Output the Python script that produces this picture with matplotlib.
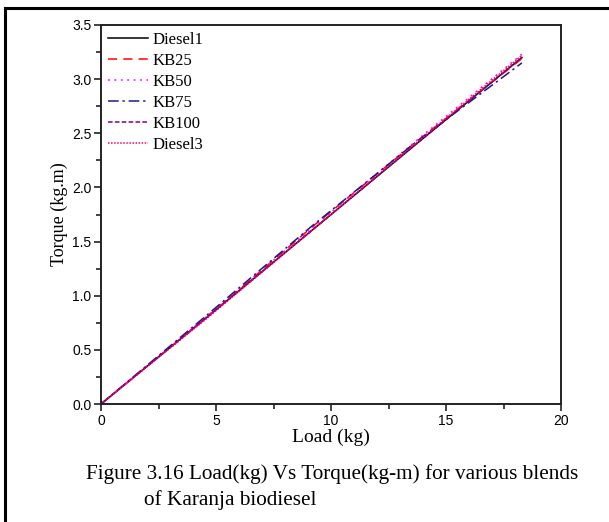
import matplotlib
matplotlib.use("Agg")
import matplotlib.pyplot as plt
from matplotlib.lines import Line2D
from matplotlib.ticker import MultipleLocator

load = [0, 4.6, 9.15, 13.7, 18.3]
diesel1 = [0, 0.80, 1.60, 2.40, 3.20]
kb25 = [0, 0.80, 1.63, 2.42, 3.19]
kb50 = [0, 0.81, 1.62, 2.43, 3.23]
kb75 = [0, 0.82, 1.64, 2.42, 3.15]
kb100 = [0, 0.80, 1.60, 2.40, 3.20]
diesel3 = [0, 0.79, 1.60, 2.41, 3.22]

series = [
    ("Diesel1", diesel1, dict(color="black", linestyle="-")),
    ("KB25", kb25, dict(color="#ff0000", linestyle=(0, (6, 4)))),
    ("KB50", kb50, dict(color="#ff00ff", linestyle=(0, (1.2, 3)))),
    ("KB75", kb75, dict(color="#1a1a8c", linestyle=(0, (7, 2.5, 1.5, 2.5)))),
    ("KB100", kb100, dict(color="#800080", linestyle=(0, (3, 1.5)))),
    ("Diesel3", diesel3, dict(color="#ff0066", linestyle=(0, (1, 1)))),
]

fig = plt.figure(figsize=(6.09, 5.22), dpi=100)
W, H = 609, 522
ax = fig.add_axes([101 / W, 1 - 404 / H, 460 / W, 379 / H])

for name, vals, st in series:
    ax.plot(load, vals, lw=1.1, label=name, **st)

ax.set_xlim(0, 20)
ax.set_ylim(0, 3.5)
ax.xaxis.set_major_locator(MultipleLocator(5))
ax.xaxis.set_minor_locator(MultipleLocator(2.5))
ax.yaxis.set_major_locator(MultipleLocator(0.5))
ax.yaxis.set_minor_locator(MultipleLocator(0.25))
ax.yaxis.set_major_formatter(matplotlib.ticker.FormatStrFormatter("%.1f"))
ax.tick_params(which="major", direction="out", length=5, width=1.2, color="#222222",
               labelsize=10, labelcolor="black", pad=2)
ax.tick_params(which="minor", direction="out", length=3.5, width=1.2, color="#222222")
for lab in ax.get_xticklabels() + ax.get_yticklabels():
    lab.set_fontfamily("Liberation Sans")
for s in ax.spines.values():
    s.set_linewidth(1.4)
    s.set_color("#222222")

ax.set_xlabel("Load (kg)", fontfamily="Liberation Serif", fontsize=14, labelpad=1)
ax.set_ylabel("Torque (kg.m)", fontfamily="Liberation Serif", fontsize=13, labelpad=3)

leg = ax.legend(loc="upper left", frameon=False, handlelength=2.4, handletextpad=0.3,
                labelspacing=0.3, borderaxespad=0.2, borderpad=0.2,
                prop={"family": "Liberation Serif", "size": 12})

fig.text(0.5 * (80 + 584) / W, 1 - 474 / H,
         "Figure 3.16 Load(kg) Vs Torque(kg-m) for various blends",
         ha="center", va="center", fontfamily="Liberation Serif", fontsize=15.3)
fig.text(144 / W, 1 - 500 / H, "of Karanja biodiesel",
         ha="left", va="center", fontfamily="Liberation Serif", fontsize=15.3)

# outer frame (top and left)
fig.add_artist(Line2D([5 / W, 1.0], [1 - 8 / H, 1 - 8 / H], transform=fig.transFigure,
                      color="black", lw=2.2))
fig.add_artist(Line2D([5 / W, 5 / W], [0, 1 - 8 / H], transform=fig.transFigure,
                      color="black", lw=2.2))

fig.savefig("out.png", dpi=100)
